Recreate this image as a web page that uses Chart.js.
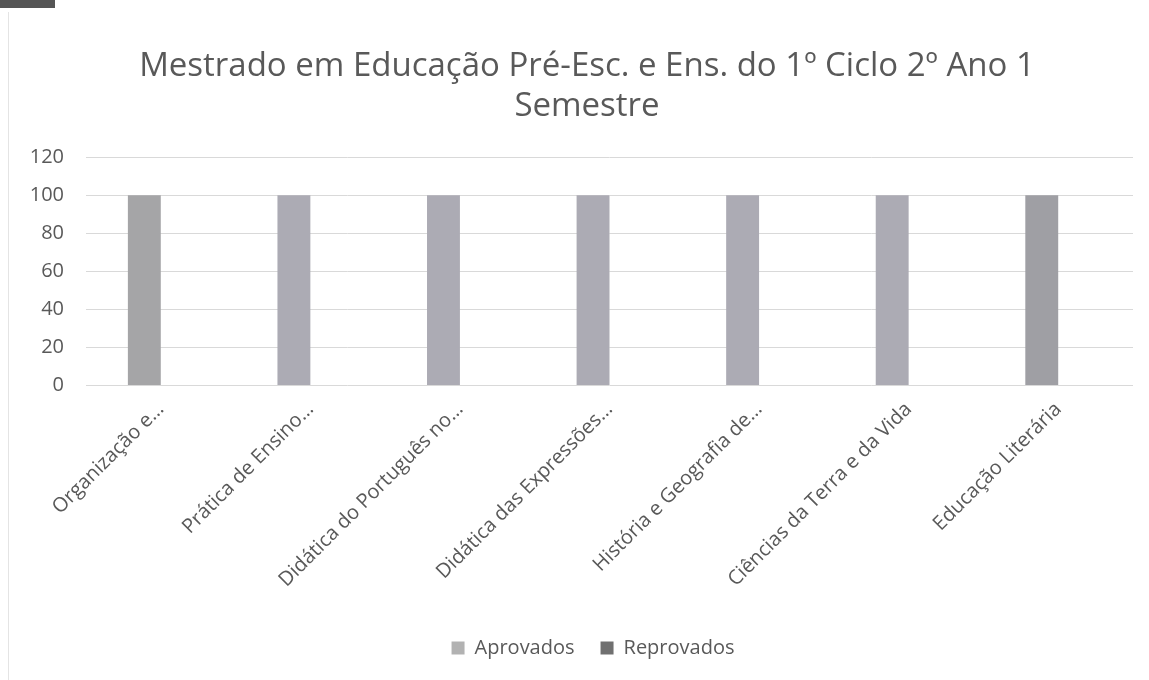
<!DOCTYPE html>
<html lang="pt">
<head>
<meta charset="utf-8">
<title>Mestrado em Educação Pré-Esc. e Ens. do 1º Ciclo 2º Ano 1 Semestre</title>
<script src="https://cdn.jsdelivr.net/npm/chart.js@4.4.0/dist/chart.umd.min.js"></script>
<style>
  html, body { margin: 0; padding: 0; background: #fff; }
  #wrap { position: relative; width: 1149px; height: 680px; }
  #tab { position: absolute; left: 0; top: 0; width: 55px; height: 8px; background: #555; }
  #edge { position: absolute; left: 8px; top: 12px; width: 1px; height: 668px; background: #e4e4e4; }
  canvas { position: absolute; left: 0; top: 0; }
</style>
</head>
<body>
<div id="wrap">
  <div id="tab"></div>
  <div id="edge"></div>
  <canvas id="chartNotas" width="1149" height="680"></canvas>
</div>
<script>
  // ── Data ──────────────────────────────────────────
  const titleLines = ['Mestrado em Educação Pré-Esc. e Ens. do 1º Ciclo 2º Ano 1', 'Semestre'];
  const categorias = [
    'Organização e…',
    'Prática de Ensino…',
    'Didática do Português no…',
    'Didática das Expressões…',
    'História e Geografia de…',
    'Ciências da Terra e da Vida',
    'Educação Literária'
  ];
  const aprovados  = [100, 100, 100, 100, 100, 100, 100];
  const reprovados = [0, 0, 0, 0, 0, 0, 0];
  const yTicks     = [0, 20, 40, 60, 80, 100, 120];

  // scanned bars come out slightly different greys
  const corAprovados  = ['#a5a5a7', '#acabb4', '#acabb4', '#acabb4', '#acabb4', '#acabb4', '#9f9fa4'];
  const corReprovados = '#707070';
  const textColor = '#595959';
  const gridColor = '#d9d9d9';
  const fontFam   = "'Open Sans', 'Liberation Sans', sans-serif";

  Chart.defaults.font.family = fontFam;
  Chart.defaults.color = textColor;

  // Excel centres title/legend a bit right of where Chart.js puts them
  const nudgeBlocks = {
    id: 'nudgeBlocks',
    afterLayout(chart) {
      if (chart.titleBlock) { chart.titleBlock.left += 6;  chart.titleBlock.right += 6; }
      if (chart.legend)     { chart.legend.left += 12;     chart.legend.right += 12; }
    }
  };

  new Chart(document.getElementById('chartNotas'), {
    type: 'bar',
    data: {
      labels: categorias,
      datasets: [
        { label: 'Aprovados',  data: aprovados,  backgroundColor: corAprovados, borderWidth: 0 },
        { label: 'Reprovados', data: reprovados, backgroundColor: corReprovados, borderWidth: 0 }
      ]
    },
    options: {
      responsive: false,
      animation: false,
      categoryPercentage: 0.44,
      barPercentage: 1.0,
      layout: { padding: { left: 29, right: 16, top: 47, bottom: 12 } },
      plugins: {
        title: {
          display: true,
          text: titleLines,
          color: textColor,
          font: { size: 33, weight: 'normal' },
          lineHeight: 1.22,
          padding: { top: 0, bottom: 31 }
        },
        legend: {
          position: 'bottom',
          labels: {
            // legend swatches: Aprovados light grey, Reprovados dark grey
            generateLabels: chart => chart.data.datasets.map((ds, i) => ({
              text: ds.label,
              fillStyle: i === 0 ? '#b2b2b2' : corReprovados,
              strokeStyle: 'transparent',
              lineWidth: 0,
              fontColor: textColor,
              datasetIndex: i
            })),
            boxWidth: 13,
            boxHeight: 13,
            padding: 26,
            font: { size: 20 }
          }
        },
        tooltip: { enabled: false }
      },
      scales: {
        x: {
          grid: { display: false },
          border: { display: false },
          afterFit: axis => {
            // let the first slanted label hang out to the left, like Excel does
            axis.paddingLeft = 0;
            // extra room between the slanted labels and the legend
            axis.height += 16;
          },
          ticks: {
            minRotation: 45,
            maxRotation: 45,
            padding: 4,
            color: textColor,
            font: { size: 20 }
          }
        },
        y: {
          min: 0,
          max: 120,
          afterBuildTicks: axis => { axis.ticks = yTicks.map(v => ({ value: v })); },
          afterFit: axis => { axis.width = 57; },
          grid: { color: gridColor, lineWidth: 1, drawTicks: false },
          border: { display: false },
          ticks: { color: textColor, font: { size: 20 }, padding: 22 }
        }
      }
    },
    plugins: [nudgeBlocks]
  });
</script>
</body>
</html>
